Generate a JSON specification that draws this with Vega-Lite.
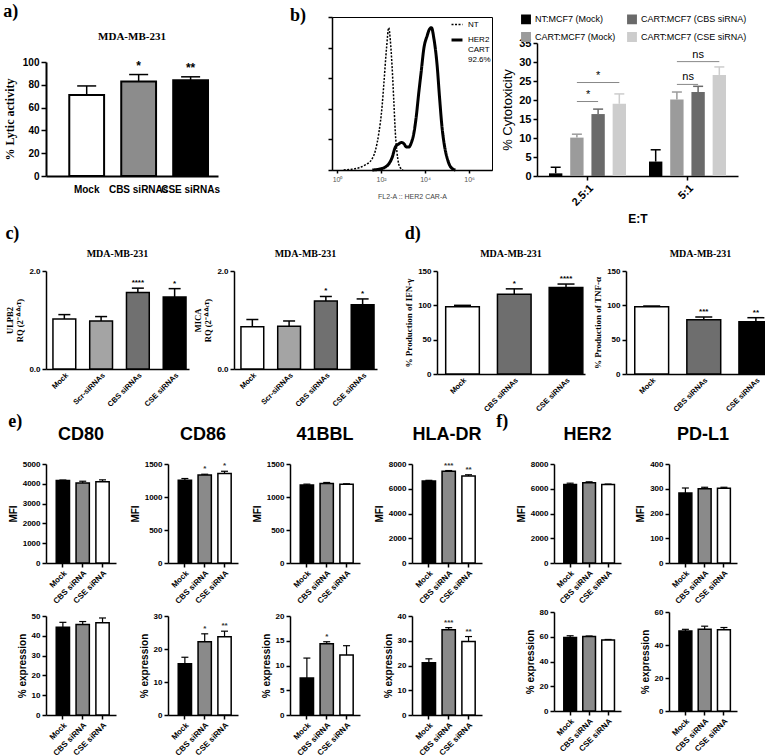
{
"$schema":"https://vega.github.io/schema/vega-lite/v6.json",
"background":"white",
"padding":{"left":3,"top":3,"right":3,"bottom":0},
"config":{
 "view":{"stroke":null},
 "font":"Liberation Sans",
 "numberFormat":"d",
 "axis":{"grid":false,"labelOverlap":false,"domainColor":"black","tickColor":"black","labelColor":"black","titleColor":"black","domainWidth":1.5,"tickWidth":1.5,"tickSize":4,"labelFont":"Liberation Sans","labelFontWeight":"bold","labelFontSize":9,"titleFont":"Liberation Sans","titleFontWeight":"bold","titleFontSize":10,"labelPadding":2,"titlePadding":4},
 "axisQuantitative":{"tickCount":30},
 "title":{"font":"Liberation Sans","fontWeight":"bold","color":"black"},
 "legend":{"labelFont":"Liberation Sans","labelColor":"black"}
},
"datasets":{
 "bars":[
  {"p":"a","g":"Mock","v":71,"hi":79,"sig":""},
  {"p":"a","g":"CBS siRNAs","v":83,"hi":89,"sig":"*"},
  {"p":"a","g":"CSE siRNAs","v":84,"hi":87,"sig":"**"},
  {"p":"c1","g":"Mock","v":1.02,"hi":1.11,"sig":""},
  {"p":"c1","g":"Scr-siRNAs","v":0.98,"hi":1.07,"sig":""},
  {"p":"c1","g":"CBS siRNAs","v":1.56,"hi":1.65,"sig":"****"},
  {"p":"c1","g":"CSE siRNAs","v":1.47,"hi":1.64,"sig":"*"},
  {"p":"c2","g":"Mock","v":0.86,"hi":1.01,"sig":""},
  {"p":"c2","g":"Scr-siRNAs","v":0.87,"hi":0.98,"sig":""},
  {"p":"c2","g":"CBS siRNAs","v":1.39,"hi":1.48,"sig":"*"},
  {"p":"c2","g":"CSE siRNAs","v":1.31,"hi":1.43,"sig":"*"},
  {"p":"d1","g":"Mock","v":98,"hi":100,"sig":""},
  {"p":"d1","g":"CBS siRNAs","v":116,"hi":124,"sig":"*"},
  {"p":"d1","g":"CSE siRNAs","v":126,"hi":131,"sig":"****"},
  {"p":"d2","g":"Mock","v":98,"hi":99,"sig":""},
  {"p":"d2","g":"CBS siRNAs","v":79,"hi":83,"sig":"***"},
  {"p":"d2","g":"CSE siRNAs","v":76,"hi":82,"sig":"**"},
  {"p":"CD80m","g":"Mock","v":4170,"hi":4190,"sig":""},
  {"p":"CD80m","g":"CBS siRNA","v":4040,"hi":4130,"sig":""},
  {"p":"CD80m","g":"CSE siRNA","v":4100,"hi":4200,"sig":""},
  {"p":"CD86m","g":"Mock","v":1255,"hi":1280,"sig":""},
  {"p":"CD86m","g":"CBS siRNA","v":1335,"hi":1345,"sig":"*"},
  {"p":"CD86m","g":"CSE siRNA","v":1355,"hi":1390,"sig":"*"},
  {"p":"BBLm","g":"Mock","v":1180,"hi":1195,"sig":""},
  {"p":"BBLm","g":"CBS siRNA","v":1205,"hi":1220,"sig":""},
  {"p":"BBLm","g":"CSE siRNA","v":1195,"hi":1200,"sig":""},
  {"p":"HLAm","g":"Mock","v":6620,"hi":6680,"sig":""},
  {"p":"HLAm","g":"CBS siRNA","v":7420,"hi":7470,"sig":"***"},
  {"p":"HLAm","g":"CSE siRNA","v":7030,"hi":7130,"sig":"**"},
  {"p":"HER2m","g":"Mock","v":6350,"hi":6450,"sig":""},
  {"p":"HER2m","g":"CBS siRNA","v":6480,"hi":6560,"sig":""},
  {"p":"HER2m","g":"CSE siRNA","v":6340,"hi":6380,"sig":""},
  {"p":"PDL1m","g":"Mock","v":283,"hi":303,"sig":""},
  {"p":"PDL1m","g":"CBS siRNA","v":300,"hi":306,"sig":""},
  {"p":"PDL1m","g":"CSE siRNA","v":302,"hi":306,"sig":""},
  {"p":"CD80p","g":"Mock","v":44.3,"hi":46.8,"sig":""},
  {"p":"CD80p","g":"CBS siRNA","v":45.7,"hi":47.2,"sig":""},
  {"p":"CD80p","g":"CSE siRNA","v":46.6,"hi":49.0,"sig":""},
  {"p":"CD86p","g":"Mock","v":15.5,"hi":17.5,"sig":""},
  {"p":"CD86p","g":"CBS siRNA","v":22.2,"hi":24.6,"sig":"*"},
  {"p":"CD86p","g":"CSE siRNA","v":23.7,"hi":25.4,"sig":"**"},
  {"p":"BBLp","g":"Mock","v":7.5,"hi":11.5,"sig":""},
  {"p":"BBLp","g":"CBS siRNA","v":14.4,"hi":14.8,"sig":"*"},
  {"p":"BBLp","g":"CSE siRNA","v":12.1,"hi":14.0,"sig":""},
  {"p":"HLAp","g":"Mock","v":21.1,"hi":22.7,"sig":""},
  {"p":"HLAp","g":"CBS siRNA","v":34.4,"hi":35.3,"sig":"***"},
  {"p":"HLAp","g":"CSE siRNA","v":29.7,"hi":31.7,"sig":"**"},
  {"p":"HER2p","g":"Mock","v":59.3,"hi":60.8,"sig":""},
  {"p":"HER2p","g":"CBS siRNA","v":60.2,"hi":60.6,"sig":""},
  {"p":"HER2p","g":"CSE siRNA","v":57.3,"hi":57.8,"sig":""},
  {"p":"PDL1p","g":"Mock","v":48.5,"hi":49.5,"sig":""},
  {"p":"PDL1p","g":"CBS siRNA","v":49.6,"hi":51.4,"sig":""},
  {"p":"PDL1p","g":"CSE siRNA","v":49.2,"hi":50.6,"sig":""}
 ],
 "cyto":[
  {"et":"2.5:1","s":"NT:MCF7 (Mock)","v":0.7,"hi":2.3},
  {"et":"2.5:1","s":"CART:MCF7 (Mock)","v":10.1,"hi":11.0},
  {"et":"2.5:1","s":"CART:MCF7 (CBS siRNA)","v":16.3,"hi":17.6},
  {"et":"2.5:1","s":"CART:MCF7 (CSE siRNA)","v":19.0,"hi":21.6},
  {"et":"5:1","s":"NT:MCF7 (Mock)","v":3.8,"hi":6.9},
  {"et":"5:1","s":"CART:MCF7 (Mock)","v":20.1,"hi":22.1},
  {"et":"5:1","s":"CART:MCF7 (CBS siRNA)","v":22.1,"hi":23.6},
  {"et":"5:1","s":"CART:MCF7 (CSE siRNA)","v":26.6,"hi":28.7}
 ],
 "sig":[
  {"k":"a1","et":"2.5:1","s":"CART:MCF7 (Mock)","y":19.6,"t":""},
  {"k":"a1","et":"2.5:1","s":"CART:MCF7 (CBS siRNA)","y":19.6,"t":"*"},
  {"k":"a2","et":"2.5:1","s":"CART:MCF7 (Mock)","y":24.6,"t":""},
  {"k":"a2","et":"2.5:1","s":"CART:MCF7 (CSE siRNA)","y":24.6,"t":""},
  {"k":"b1","et":"5:1","s":"CART:MCF7 (Mock)","y":24.1,"t":""},
  {"k":"b1","et":"5:1","s":"CART:MCF7 (CBS siRNA)","y":24.1,"t":"ns"},
  {"k":"b2","et":"5:1","s":"CART:MCF7 (Mock)","y":30.1,"t":""},
  {"k":"b2","et":"5:1","s":"CART:MCF7 (CSE siRNA)","y":30.1,"t":""},
  {"k":"a2t","et":"2.5:1","s":"CART:MCF7 (CBS siRNA)","y":24.6,"t":"*"},
  {"k":"b2t","et":"5:1","s":"CART:MCF7 (CBS siRNA)","y":30.1,"t":"ns"}
 ],
 "flow":[
  {"s":"NT","x":2,"y":0},{"s":"NT","x":4.7,"y":0.5},{"s":"NT","x":10,"y":1.5},{"s":"NT","x":20,"y":3.5},{"s":"NT","x":38,"y":7},{"s":"NT","x":56,"y":13},{"s":"NT","x":79,"y":24},{"s":"NT","x":112,"y":42},{"s":"NT","x":135,"y":57},{"s":"NT","x":178,"y":80},{"s":"NT","x":224,"y":93},{"s":"NT","x":263,"y":85},{"s":"NT","x":316,"y":68},{"s":"NT","x":380,"y":45},{"s":"NT","x":447,"y":24},{"s":"NT","x":525,"y":12},{"s":"NT","x":631,"y":4},{"s":"NT","x":794,"y":1},{"s":"NT","x":1000,"y":0},
  {"s":"HER2","x":40,"y":0},{"s":"HER2","x":79,"y":0.5},{"s":"HER2","x":158,"y":2},{"s":"HER2","x":251,"y":5},{"s":"HER2","x":316,"y":8},{"s":"HER2","x":447,"y":15},{"s":"HER2","x":631,"y":17},{"s":"HER2","x":851,"y":18},{"s":"HER2","x":1122,"y":17},{"s":"HER2","x":1413,"y":15},{"s":"HER2","x":1820,"y":15},{"s":"HER2","x":2399,"y":18},{"s":"HER2","x":3090,"y":24},{"s":"HER2","x":3981,"y":35},{"s":"HER2","x":5129,"y":50},{"s":"HER2","x":6761,"y":65},{"s":"HER2","x":8710,"y":79},{"s":"HER2","x":12589,"y":88},{"s":"HER2","x":15849,"y":92},{"s":"HER2","x":19498,"y":93},{"s":"HER2","x":25119,"y":86},{"s":"HER2","x":35481,"y":68},{"s":"HER2","x":45709,"y":47},{"s":"HER2","x":58884,"y":28},{"s":"HER2","x":75858,"y":16},{"s":"HER2","x":100000,"y":8},{"s":"HER2","x":131826,"y":3},{"s":"HER2","x":169824,"y":1},{"s":"HER2","x":239883,"y":0}
 ],
 "heads":[{"t":"MDA-MB-231"}]
},
"spacing":0,
"resolve":{"scale":{"color":"independent","strokeDash":"independent","strokeWidth":"independent"},"legend":{"color":"independent","strokeDash":"independent","strokeWidth":"independent"}},
"vconcat":[
 {"spacing":69,
  "resolve":{"scale":{"color":"independent","strokeDash":"independent","strokeWidth":"independent"},"legend":{"color":"independent","strokeDash":"independent","strokeWidth":"independent"}},
  "hconcat":[
  {"title":{"text":"a)","font":"Liberation Serif","fontSize":18,"anchor":"start","offset":0,"dx":0,"dy":4},
   "spacing":0,
   "vconcat":[
    {"width":172,"height":40,"data":{"name":"heads"},
     "mark":{"type":"text","font":"Liberation Serif","fontSize":11,"fontWeight":"bold","color":"black","baseline":"middle"},
     "encoding":{"text":{"field":"t"}}},
    {"width":172,"height":114,
     "data":{"name":"bars"},"transform":[{"filter":"datum.p==='a'"}],
     "encoding":{"x":{"field":"g","type":"nominal","sort":null,"title":null,"scale":{"paddingInner":0.33,"paddingOuter":0.32,"align":0.7},"axis":{"labelAngle":0,"ticks":false,"labelFontSize":10,"labelPadding":8,"labelBound":false,"domainWidth":2}}},
     "layer":[
      {"mark":{"type":"bar","stroke":"black","strokeWidth":2},"encoding":{"y":{"field":"v","type":"quantitative","scale":{"domain":[0,100],"nice":false},"axis":{"title":"% Lytic activity","titleFont":"Liberation Serif","titleFontSize":12,"values":[0,20,40,60,80,100],"tickCount":30,"labelFontSize":10,"tickSize":5,"titlePadding":6,"domainWidth":2}},"fill":{"condition":[{"test":"datum.g==='Mock'","value":"white"},{"test":"datum.g==='CBS siRNAs'","value":"#8c8c8c"}],"value":"black"}}},
      {"mark":{"type":"rule","color":"black","strokeWidth":1.5},"encoding":{"y":{"field":"v","type":"quantitative"},"y2":{"field":"hi"}}},
      {"mark":{"type":"tick","color":"black","thickness":1.5,"size":19,"opacity":1},"encoding":{"y":{"field":"hi","type":"quantitative"}}},
      {"mark":{"type":"text","color":"black","baseline":"bottom","dy":-2,"fontSize":12,"fontWeight":"bold"},"encoding":{"y":{"field":"hi","type":"quantitative"},"text":{"field":"sig"}}}
     ]}
   ]},
  {"spacing":8,
   "resolve":{"scale":{"color":"independent","strokeDash":"independent","strokeWidth":"independent"},"legend":{"color":"independent","strokeDash":"independent","strokeWidth":"independent"}},
   "hconcat":[
    {"width":160,"height":153,
     "title":{"text":"b)","font":"Liberation Serif","fontSize":18,"anchor":"start","frame":"group","offset":0,"dx":-42,"dy":9},
     "view":{"stroke":"black","strokeWidth":1},
     "data":{"name":"flow"},
     "mark":{"type":"line","color":"black","interpolate":"monotone"},
     "encoding":{
      "x":{"field":"x","type":"quantitative","scale":{"type":"log","domain":[0.59,11000000],"nice":false},"axis":{"values":[1,100,10000,1000000],"labelExpr":"datum.value<10?'10⁰':datum.value<1000?'10²':datum.value<100000?'10⁴':'10⁶'","title":"FL2-A :: HER2 CAR-A","labelFontWeight":"normal","labelFontSize":7,"labelColor":"#555","titleFontWeight":"normal","titleFontSize":7,"titleColor":"#444","tickSize":3,"domainWidth":1.5,"titlePadding":10}},
      "y":{"field":"y","type":"quantitative","scale":{"domain":[0,100],"nice":false},"axis":{"values":[0,20,40,60,80,100],"labels":false,"title":null,"tickSize":4,"domainWidth":1.5}},
      "strokeDash":{"field":"s","type":"nominal","scale":{"domain":["NT","HER2"],"range":[[2,1.5],[1,0]]},"legend":{"orient":"top-right","offset":0,"title":null,"labelFontSize":8,"labelFontWeight":"normal","symbolType":"stroke","symbolSize":120,"symbolStrokeColor":"black","labelExpr":"datum.label==='HER2'?['HER2','CART','92.6%']:datum.label","padding":1,"rowPadding":4}},
      "strokeWidth":{"field":"s","type":"ordinal","scale":{"domain":["NT","HER2"],"range":[1.5,3]},"legend":{"orient":"top-right","offset":0,"title":null,"labelFontSize":8,"labelFontWeight":"normal","symbolType":"stroke","symbolSize":120,"symbolStrokeColor":"black","labelExpr":"datum.label==='HER2'?['HER2','CART','92.6%']:datum.label","padding":1,"rowPadding":4}}
     }},
    {"spacing":0,
     "vconcat":[
      {"width":201,"height":20,"data":{"values":[]},"mark":"point"},
      {"width":201,"height":133,
       "layer":[
        {"data":{"name":"cyto"},"mark":{"type":"bar"},"encoding":{
          "x":{"field":"et","type":"nominal","sort":null,"scale":{"domain":["2.5:1","5:1"],"paddingInner":0.23,"paddingOuter":0.12},"axis":{"title":"E:T","labelAngle":-45,"labelFontSize":11,"titleFontSize":12,"titlePadding":6}},
          "xOffset":{"field":"s","type":"nominal","scale":{"domain":["NT:MCF7 (Mock)","CART:MCF7 (Mock)","CART:MCF7 (CBS siRNA)","CART:MCF7 (CSE siRNA)"],"paddingInner":0.37,"paddingOuter":0}},
          "y":{"field":"v","type":"quantitative","scale":{"domain":[0,35],"nice":false},"axis":{"title":"% Cytotoxicity","values":[0,5,10,15,20,25,30,35],"tickCount":30,"labelFontSize":11,"titleFontSize":13,"titleFontWeight":"normal"}},
          "color":{"field":"s","type":"nominal","scale":{"domain":["NT:MCF7 (Mock)","CART:MCF7 (CBS siRNA)","CART:MCF7 (Mock)","CART:MCF7 (CSE siRNA)"],"range":["#000000","#6a6a6a","#9b9b9b","#cdcdcd"]},"legend":{"orient":"none","legendX":-16,"legendY":-3,"title":null,"columns":2,"direction":"horizontal","labelFontSize":9,"labelFontWeight":"normal","symbolType":"square","symbolSize":70,"columnPadding":8,"rowPadding":2,"labelLimit":200}}
        }},
        {"data":{"name":"cyto"},"mark":{"type":"rule","strokeWidth":1.5},"encoding":{
          "x":{"field":"et","type":"nominal","sort":null},
          "xOffset":{"field":"s","type":"nominal"},
          "y":{"field":"v","type":"quantitative"},"y2":{"field":"hi"},
          "color":{"field":"s","type":"nominal"}}},
        {"data":{"name":"cyto"},"mark":{"type":"tick","thickness":1.5,"size":10,"opacity":1},"encoding":{
          "x":{"field":"et","type":"nominal","sort":null},
          "xOffset":{"field":"s","type":"nominal"},
          "y":{"field":"hi","type":"quantitative"},
          "color":{"field":"s","type":"nominal"}}},
        {"data":{"name":"sig"},"transform":[{"filter":"datum.k==='a1'||datum.k==='a2'||datum.k==='b1'||datum.k==='b2'"}],"mark":{"type":"line","color":"#888","strokeWidth":1},"encoding":{
          "x":{"field":"et","type":"nominal","sort":null},
          "xOffset":{"field":"s","type":"nominal"},
          "y":{"field":"y","type":"quantitative"},
          "detail":{"field":"k"}}},
        {"data":{"name":"sig"},"transform":[{"filter":"datum.k==='a1'||datum.k==='b1'"}],"mark":{"type":"text","dx":-10,"dy":-2,"baseline":"bottom","fontSize":11,"color":"black"},"encoding":{
          "x":{"field":"et","type":"nominal","sort":null},
          "xOffset":{"field":"s","type":"nominal"},
          "y":{"field":"y","type":"quantitative"},
          "text":{"field":"t"}}},
        {"data":{"name":"sig"},"transform":[{"filter":"datum.k==='a2t'||datum.k==='b2t'"}],"mark":{"type":"text","dy":-2,"baseline":"bottom","fontSize":11,"color":"black"},"encoding":{
          "x":{"field":"et","type":"nominal","sort":null},
          "xOffset":{"field":"s","type":"nominal"},
          "y":{"field":"y","type":"quantitative"},
          "text":{"field":"t"}}}
       ]}
     ]}
   ]}
 ]},
 {"spacing":27,"hconcat":[
  {"title":{"text":"c)","font":"Liberation Serif","fontSize":18,"anchor":"start","offset":6},
   "spacing":4,
   "hconcat":[
    {"width":143,"height":98,
     "title":{"text":"MDA-MB-231","font":"Liberation Serif","fontSize":10,"offset":8},
     "data":{"name":"bars"},"transform":[{"filter":"datum.p==='c1'"}],
     "encoding":{"x":{"field":"g","type":"nominal","sort":null,"title":null,"scale":{"paddingInner":0.38,"paddingOuter":0.135,"align":0.7},"axis":{"labelAngle":-45,"ticks":false,"labelFontSize":7.5}}},
     "layer":[
      {"mark":{"type":"bar","stroke":"black","strokeWidth":1.5},"encoding":{"y":{"field":"v","type":"quantitative","scale":{"domain":[0,2],"nice":false},"axis":{"title":["ULPB2","RQ (2⁻ᐞᐞᶜᵀ)"],"titleFont":"Liberation Serif","titleFontSize":8.5,"values":[0,0.5,1,1.5,2],"tickCount":30,"format":".1f","labelFontSize":8}},"fill":{"condition":[{"test":"datum.g==='Mock'","value":"white"},{"test":"datum.g==='Scr-siRNAs'","value":"#a4a4a4"},{"test":"datum.g==='CBS siRNAs'","value":"#707070"}],"value":"black"}}},
      {"mark":{"type":"rule","color":"black","strokeWidth":1.5},"encoding":{"y":{"field":"v","type":"quantitative"},"y2":{"field":"hi"}}},
      {"mark":{"type":"tick","color":"black","thickness":1.5,"size":12,"opacity":1},"encoding":{"y":{"field":"hi","type":"quantitative"}}},
      {"mark":{"type":"text","color":"black","baseline":"bottom","dy":-1,"fontSize":8,"fontWeight":"bold"},"encoding":{"y":{"field":"hi","type":"quantitative"},"text":{"field":"sig"}}}
     ]},
    {"width":143,"height":98,
     "title":{"text":"MDA-MB-231","font":"Liberation Serif","fontSize":10,"offset":8},
     "data":{"name":"bars"},"transform":[{"filter":"datum.p==='c2'"}],
     "encoding":{"x":{"field":"g","type":"nominal","sort":null,"title":null,"scale":{"paddingInner":0.38,"paddingOuter":0.135,"align":0.7},"axis":{"labelAngle":-45,"ticks":false,"labelFontSize":7.5}}},
     "layer":[
      {"mark":{"type":"bar","stroke":"black","strokeWidth":1.5},"encoding":{"y":{"field":"v","type":"quantitative","scale":{"domain":[0,2],"nice":false},"axis":{"title":["MICA","RQ (2⁻ᐞᐞᶜᵀ)"],"titleFont":"Liberation Serif","titleFontSize":8.5,"values":[0,0.5,1,1.5,2],"tickCount":30,"format":".1f","labelFontSize":8}},"fill":{"condition":[{"test":"datum.g==='Mock'","value":"white"},{"test":"datum.g==='Scr-siRNAs'","value":"#a4a4a4"},{"test":"datum.g==='CBS siRNAs'","value":"#707070"}],"value":"black"}}},
      {"mark":{"type":"rule","color":"black","strokeWidth":1.5},"encoding":{"y":{"field":"v","type":"quantitative"},"y2":{"field":"hi"}}},
      {"mark":{"type":"tick","color":"black","thickness":1.5,"size":12,"opacity":1},"encoding":{"y":{"field":"hi","type":"quantitative"}}},
      {"mark":{"type":"text","color":"black","baseline":"bottom","dy":-1,"fontSize":8,"fontWeight":"bold"},"encoding":{"y":{"field":"hi","type":"quantitative"},"text":{"field":"sig"}}}
     ]}
   ]},
  {"title":{"text":"d)","font":"Liberation Serif","fontSize":18,"anchor":"start","offset":6},
   "spacing":8,
   "hconcat":[
    {"width":148,"height":103,
     "title":{"text":"MDA-MB-231","font":"Liberation Serif","fontSize":10,"offset":8},
     "data":{"name":"bars"},"transform":[{"filter":"datum.p==='d1'"}],
     "encoding":{"x":{"field":"g","type":"nominal","sort":null,"title":null,"scale":{"paddingInner":0.35,"paddingOuter":0.105,"align":0.8},"axis":{"labelAngle":-45,"ticks":false,"labelFontSize":7.5}}},
     "layer":[
      {"mark":{"type":"bar","stroke":"black","strokeWidth":1.5},"encoding":{"y":{"field":"v","type":"quantitative","scale":{"domain":[0,150],"nice":false},"axis":{"title":"% Production of IFN-γ","titleFont":"Liberation Serif","titleFontSize":9,"values":[0,50,100,150],"tickCount":30,"labelFontSize":8}},"fill":{"condition":[{"test":"datum.g==='Mock'","value":"white"},{"test":"datum.g==='CBS siRNAs'","value":"#6e6e6e"}],"value":"black"}}},
      {"mark":{"type":"rule","color":"black","strokeWidth":1.5},"encoding":{"y":{"field":"v","type":"quantitative"},"y2":{"field":"hi"}}},
      {"mark":{"type":"tick","color":"black","thickness":1.5,"size":17,"opacity":1},"encoding":{"y":{"field":"hi","type":"quantitative"}}},
      {"mark":{"type":"text","color":"black","baseline":"bottom","dy":-1,"fontSize":8,"fontWeight":"bold"},"encoding":{"y":{"field":"hi","type":"quantitative"},"text":{"field":"sig"}}}
     ]},
    {"width":149,"height":103,
     "title":{"text":"MDA-MB-231","font":"Liberation Serif","fontSize":10,"offset":8},
     "data":{"name":"bars"},"transform":[{"filter":"datum.p==='d2'"}],
     "encoding":{"x":{"field":"g","type":"nominal","sort":null,"title":null,"scale":{"paddingInner":0.35,"paddingOuter":0.105,"align":0.8},"axis":{"labelAngle":-45,"ticks":false,"labelFontSize":7.5}}},
     "layer":[
      {"mark":{"type":"bar","stroke":"black","strokeWidth":1.5},"encoding":{"y":{"field":"v","type":"quantitative","scale":{"domain":[0,150],"nice":false},"axis":{"title":"% Production of TNF-α","titleFont":"Liberation Serif","titleFontSize":9,"values":[0,50,100,150],"tickCount":30,"labelFontSize":8}},"fill":{"condition":[{"test":"datum.g==='Mock'","value":"white"},{"test":"datum.g==='CBS siRNAs'","value":"#6e6e6e"}],"value":"black"}}},
      {"mark":{"type":"rule","color":"black","strokeWidth":1.5},"encoding":{"y":{"field":"v","type":"quantitative"},"y2":{"field":"hi"}}},
      {"mark":{"type":"tick","color":"black","thickness":1.5,"size":17,"opacity":1},"encoding":{"y":{"field":"hi","type":"quantitative"}}},
      {"mark":{"type":"text","color":"black","baseline":"bottom","dy":-1,"fontSize":8,"fontWeight":"bold"},"encoding":{"y":{"field":"hi","type":"quantitative"},"text":{"field":"sig"}}}
     ]}
   ]}
 ]},
 {"spacing":14,"hconcat":[
  {"title":{"text":"e)","font":"Liberation Serif","fontSize":18,"anchor":"start","dy":9},
   "columns":4,"spacing":{"row":2,"column":14},
   "concat":[
    {"width":70,"height":99,"title":{"text":"CD80","fontSize":18,"offset":16},"data":{"name":"bars"},"transform":[{"filter":"datum.p==='CD80m'"}],
     "encoding":{"x":{"field":"g","type":"nominal","sort":null,"title":null,"scale":{"paddingInner":0.33,"paddingOuter":0.43,"align":0.6},"axis":{"labelAngle":-45,"labelFontSize":8}}},
     "layer":[
      {"mark":{"type":"bar","stroke":"black","strokeWidth":1.5},"encoding":{"y":{"field":"v","type":"quantitative","scale":{"domain":[0,5000],"nice":false},"axis":{"title":"MFI","values":[0,1000,2000,3000,4000,5000],"tickCount":30,"labelFontSize":8}},"fill":{"condition":[{"test":"datum.g==='Mock'","value":"black"},{"test":"datum.g==='CBS siRNA'","value":"#8a8a8a"}],"value":"white"}}},
      {"mark":{"type":"rule","color":"black","strokeWidth":1.2},"encoding":{"y":{"field":"v","type":"quantitative"},"y2":{"field":"hi"}}},
      {"mark":{"type":"tick","color":"black","thickness":1.2,"size":7,"opacity":1},"encoding":{"y":{"field":"hi","type":"quantitative"}}},
      {"mark":{"type":"text","color":"#333","baseline":"bottom","dy":-1,"fontSize":8,"fontWeight":"bold"},"encoding":{"y":{"field":"hi","type":"quantitative"},"text":{"field":"sig"}}}
     ]},
    {"width":70,"height":99,"title":{"text":"CD86","fontSize":18,"offset":16},"data":{"name":"bars"},"transform":[{"filter":"datum.p==='CD86m'"}],
     "encoding":{"x":{"field":"g","type":"nominal","sort":null,"title":null,"scale":{"paddingInner":0.33,"paddingOuter":0.43,"align":0.6},"axis":{"labelAngle":-45,"labelFontSize":8}}},
     "layer":[
      {"mark":{"type":"bar","stroke":"black","strokeWidth":1.5},"encoding":{"y":{"field":"v","type":"quantitative","scale":{"domain":[0,1500],"nice":false},"axis":{"title":"MFI","values":[0,500,1000,1500],"tickCount":30,"labelFontSize":8}},"fill":{"condition":[{"test":"datum.g==='Mock'","value":"black"},{"test":"datum.g==='CBS siRNA'","value":"#8a8a8a"}],"value":"white"}}},
      {"mark":{"type":"rule","color":"black","strokeWidth":1.2},"encoding":{"y":{"field":"v","type":"quantitative"},"y2":{"field":"hi"}}},
      {"mark":{"type":"tick","color":"black","thickness":1.2,"size":7,"opacity":1},"encoding":{"y":{"field":"hi","type":"quantitative"}}},
      {"mark":{"type":"text","color":"#333","baseline":"bottom","dy":-1,"fontSize":8,"fontWeight":"bold"},"encoding":{"y":{"field":"hi","type":"quantitative"},"text":{"field":"sig"}}}
     ]},
    {"width":70,"height":99,"title":{"text":"41BBL","fontSize":18,"offset":16},"data":{"name":"bars"},"transform":[{"filter":"datum.p==='BBLm'"}],
     "encoding":{"x":{"field":"g","type":"nominal","sort":null,"title":null,"scale":{"paddingInner":0.33,"paddingOuter":0.43,"align":0.6},"axis":{"labelAngle":-45,"labelFontSize":8}}},
     "layer":[
      {"mark":{"type":"bar","stroke":"black","strokeWidth":1.5},"encoding":{"y":{"field":"v","type":"quantitative","scale":{"domain":[0,1500],"nice":false},"axis":{"title":"MFI","values":[0,500,1000,1500],"tickCount":30,"labelFontSize":8}},"fill":{"condition":[{"test":"datum.g==='Mock'","value":"black"},{"test":"datum.g==='CBS siRNA'","value":"#8a8a8a"}],"value":"white"}}},
      {"mark":{"type":"rule","color":"black","strokeWidth":1.2},"encoding":{"y":{"field":"v","type":"quantitative"},"y2":{"field":"hi"}}},
      {"mark":{"type":"tick","color":"black","thickness":1.2,"size":7,"opacity":1},"encoding":{"y":{"field":"hi","type":"quantitative"}}},
      {"mark":{"type":"text","color":"#333","baseline":"bottom","dy":-1,"fontSize":8,"fontWeight":"bold"},"encoding":{"y":{"field":"hi","type":"quantitative"},"text":{"field":"sig"}}}
     ]},
    {"width":70,"height":99,"title":{"text":"HLA-DR","fontSize":18,"offset":16},"data":{"name":"bars"},"transform":[{"filter":"datum.p==='HLAm'"}],
     "encoding":{"x":{"field":"g","type":"nominal","sort":null,"title":null,"scale":{"paddingInner":0.33,"paddingOuter":0.43,"align":0.6},"axis":{"labelAngle":-45,"labelFontSize":8}}},
     "layer":[
      {"mark":{"type":"bar","stroke":"black","strokeWidth":1.5},"encoding":{"y":{"field":"v","type":"quantitative","scale":{"domain":[0,8000],"nice":false},"axis":{"title":"MFI","values":[0,2000,4000,6000,8000],"tickCount":30,"labelFontSize":8}},"fill":{"condition":[{"test":"datum.g==='Mock'","value":"black"},{"test":"datum.g==='CBS siRNA'","value":"#8a8a8a"}],"value":"white"}}},
      {"mark":{"type":"rule","color":"black","strokeWidth":1.2},"encoding":{"y":{"field":"v","type":"quantitative"},"y2":{"field":"hi"}}},
      {"mark":{"type":"tick","color":"black","thickness":1.2,"size":7,"opacity":1},"encoding":{"y":{"field":"hi","type":"quantitative"}}},
      {"mark":{"type":"text","color":"#333","baseline":"bottom","dy":-1,"fontSize":8,"fontWeight":"bold"},"encoding":{"y":{"field":"hi","type":"quantitative"},"text":{"field":"sig"}}}
     ]},
    {"width":70,"height":99,"data":{"name":"bars"},"transform":[{"filter":"datum.p==='CD80p'"}],
     "encoding":{"x":{"field":"g","type":"nominal","sort":null,"title":null,"scale":{"paddingInner":0.33,"paddingOuter":0.43,"align":0.6},"axis":{"labelAngle":-45,"labelFontSize":8}}},
     "layer":[
      {"mark":{"type":"bar","stroke":"black","strokeWidth":1.5},"encoding":{"y":{"field":"v","type":"quantitative","scale":{"domain":[0,50],"nice":false},"axis":{"title":"% expression","values":[0,10,20,30,40,50],"tickCount":30,"labelFontSize":8}},"fill":{"condition":[{"test":"datum.g==='Mock'","value":"black"},{"test":"datum.g==='CBS siRNA'","value":"#8a8a8a"}],"value":"white"}}},
      {"mark":{"type":"rule","color":"black","strokeWidth":1.2},"encoding":{"y":{"field":"v","type":"quantitative"},"y2":{"field":"hi"}}},
      {"mark":{"type":"tick","color":"black","thickness":1.2,"size":7,"opacity":1},"encoding":{"y":{"field":"hi","type":"quantitative"}}},
      {"mark":{"type":"text","color":"#333","baseline":"bottom","dy":-1,"fontSize":8,"fontWeight":"bold"},"encoding":{"y":{"field":"hi","type":"quantitative"},"text":{"field":"sig"}}}
     ]},
    {"width":70,"height":99,"data":{"name":"bars"},"transform":[{"filter":"datum.p==='CD86p'"}],
     "encoding":{"x":{"field":"g","type":"nominal","sort":null,"title":null,"scale":{"paddingInner":0.33,"paddingOuter":0.43,"align":0.6},"axis":{"labelAngle":-45,"labelFontSize":8}}},
     "layer":[
      {"mark":{"type":"bar","stroke":"black","strokeWidth":1.5},"encoding":{"y":{"field":"v","type":"quantitative","scale":{"domain":[0,30],"nice":false},"axis":{"title":"% expression","values":[0,10,20,30],"tickCount":30,"labelFontSize":8}},"fill":{"condition":[{"test":"datum.g==='Mock'","value":"black"},{"test":"datum.g==='CBS siRNA'","value":"#8a8a8a"}],"value":"white"}}},
      {"mark":{"type":"rule","color":"black","strokeWidth":1.2},"encoding":{"y":{"field":"v","type":"quantitative"},"y2":{"field":"hi"}}},
      {"mark":{"type":"tick","color":"black","thickness":1.2,"size":7,"opacity":1},"encoding":{"y":{"field":"hi","type":"quantitative"}}},
      {"mark":{"type":"text","color":"#333","baseline":"bottom","dy":-1,"fontSize":8,"fontWeight":"bold"},"encoding":{"y":{"field":"hi","type":"quantitative"},"text":{"field":"sig"}}}
     ]},
    {"width":70,"height":99,"data":{"name":"bars"},"transform":[{"filter":"datum.p==='BBLp'"}],
     "encoding":{"x":{"field":"g","type":"nominal","sort":null,"title":null,"scale":{"paddingInner":0.33,"paddingOuter":0.43,"align":0.6},"axis":{"labelAngle":-45,"labelFontSize":8}}},
     "layer":[
      {"mark":{"type":"bar","stroke":"black","strokeWidth":1.5},"encoding":{"y":{"field":"v","type":"quantitative","scale":{"domain":[0,20],"nice":false},"axis":{"title":"% expression","values":[0,5,10,15,20],"tickCount":30,"labelFontSize":8}},"fill":{"condition":[{"test":"datum.g==='Mock'","value":"black"},{"test":"datum.g==='CBS siRNA'","value":"#8a8a8a"}],"value":"white"}}},
      {"mark":{"type":"rule","color":"black","strokeWidth":1.2},"encoding":{"y":{"field":"v","type":"quantitative"},"y2":{"field":"hi"}}},
      {"mark":{"type":"tick","color":"black","thickness":1.2,"size":7,"opacity":1},"encoding":{"y":{"field":"hi","type":"quantitative"}}},
      {"mark":{"type":"text","color":"#333","baseline":"bottom","dy":-1,"fontSize":8,"fontWeight":"bold"},"encoding":{"y":{"field":"hi","type":"quantitative"},"text":{"field":"sig"}}}
     ]},
    {"width":70,"height":99,"data":{"name":"bars"},"transform":[{"filter":"datum.p==='HLAp'"}],
     "encoding":{"x":{"field":"g","type":"nominal","sort":null,"title":null,"scale":{"paddingInner":0.33,"paddingOuter":0.43,"align":0.6},"axis":{"labelAngle":-45,"labelFontSize":8}}},
     "layer":[
      {"mark":{"type":"bar","stroke":"black","strokeWidth":1.5},"encoding":{"y":{"field":"v","type":"quantitative","scale":{"domain":[0,40],"nice":false},"axis":{"title":"% expression","values":[0,10,20,30,40],"tickCount":30,"labelFontSize":8}},"fill":{"condition":[{"test":"datum.g==='Mock'","value":"black"},{"test":"datum.g==='CBS siRNA'","value":"#8a8a8a"}],"value":"white"}}},
      {"mark":{"type":"rule","color":"black","strokeWidth":1.2},"encoding":{"y":{"field":"v","type":"quantitative"},"y2":{"field":"hi"}}},
      {"mark":{"type":"tick","color":"black","thickness":1.2,"size":7,"opacity":1},"encoding":{"y":{"field":"hi","type":"quantitative"}}},
      {"mark":{"type":"text","color":"#333","baseline":"bottom","dy":-1,"fontSize":8,"fontWeight":"bold"},"encoding":{"y":{"field":"hi","type":"quantitative"},"text":{"field":"sig"}}}
     ]}
   ]},
  {"title":{"text":"f)","font":"Liberation Serif","fontSize":18,"anchor":"start","dy":9,"dx":-20},
   "columns":2,"spacing":{"row":2,"column":14},
   "concat":[
    {"width":67,"height":99,"title":{"text":"HER2","fontSize":18,"offset":16},"data":{"name":"bars"},"transform":[{"filter":"datum.p==='HER2m'"}],
     "encoding":{"x":{"field":"g","type":"nominal","sort":null,"title":null,"scale":{"paddingInner":0.33,"paddingOuter":0.43,"align":0.6},"axis":{"labelAngle":-45,"labelFontSize":8}}},
     "layer":[
      {"mark":{"type":"bar","stroke":"black","strokeWidth":1.5},"encoding":{"y":{"field":"v","type":"quantitative","scale":{"domain":[0,8000],"nice":false},"axis":{"title":"MFI","values":[0,2000,4000,6000,8000],"tickCount":30,"labelFontSize":8}},"fill":{"condition":[{"test":"datum.g==='Mock'","value":"black"},{"test":"datum.g==='CBS siRNA'","value":"#8a8a8a"}],"value":"white"}}},
      {"mark":{"type":"rule","color":"black","strokeWidth":1.2},"encoding":{"y":{"field":"v","type":"quantitative"},"y2":{"field":"hi"}}},
      {"mark":{"type":"tick","color":"black","thickness":1.2,"size":7,"opacity":1},"encoding":{"y":{"field":"hi","type":"quantitative"}}}
     ]},
    {"width":68,"height":99,"title":{"text":"PD-L1","fontSize":18,"offset":16},"data":{"name":"bars"},"transform":[{"filter":"datum.p==='PDL1m'"}],
     "encoding":{"x":{"field":"g","type":"nominal","sort":null,"title":null,"scale":{"paddingInner":0.33,"paddingOuter":0.43,"align":0.6},"axis":{"labelAngle":-45,"labelFontSize":8}}},
     "layer":[
      {"mark":{"type":"bar","stroke":"black","strokeWidth":1.5},"encoding":{"y":{"field":"v","type":"quantitative","scale":{"domain":[0,400],"nice":false},"axis":{"title":"MFI","values":[0,100,200,300,400],"tickCount":30,"labelFontSize":8}},"fill":{"condition":[{"test":"datum.g==='Mock'","value":"black"},{"test":"datum.g==='CBS siRNA'","value":"#8a8a8a"}],"value":"white"}}},
      {"mark":{"type":"rule","color":"black","strokeWidth":1.2},"encoding":{"y":{"field":"v","type":"quantitative"},"y2":{"field":"hi"}}},
      {"mark":{"type":"tick","color":"black","thickness":1.2,"size":7,"opacity":1},"encoding":{"y":{"field":"hi","type":"quantitative"}}}
     ]},
    {"width":67,"height":99,"data":{"name":"bars"},"transform":[{"filter":"datum.p==='HER2p'"}],
     "encoding":{"x":{"field":"g","type":"nominal","sort":null,"title":null,"scale":{"paddingInner":0.33,"paddingOuter":0.43,"align":0.6},"axis":{"labelAngle":-45,"labelFontSize":8}}},
     "layer":[
      {"mark":{"type":"bar","stroke":"black","strokeWidth":1.5},"encoding":{"y":{"field":"v","type":"quantitative","scale":{"domain":[0,80],"nice":false},"axis":{"title":"% expression","values":[0,20,40,60,80],"tickCount":30,"labelFontSize":8}},"fill":{"condition":[{"test":"datum.g==='Mock'","value":"black"},{"test":"datum.g==='CBS siRNA'","value":"#8a8a8a"}],"value":"white"}}},
      {"mark":{"type":"rule","color":"black","strokeWidth":1.2},"encoding":{"y":{"field":"v","type":"quantitative"},"y2":{"field":"hi"}}},
      {"mark":{"type":"tick","color":"black","thickness":1.2,"size":7,"opacity":1},"encoding":{"y":{"field":"hi","type":"quantitative"}}}
     ]},
    {"width":68,"height":99,"data":{"name":"bars"},"transform":[{"filter":"datum.p==='PDL1p'"}],
     "encoding":{"x":{"field":"g","type":"nominal","sort":null,"title":null,"scale":{"paddingInner":0.33,"paddingOuter":0.43,"align":0.6},"axis":{"labelAngle":-45,"labelFontSize":8}}},
     "layer":[
      {"mark":{"type":"bar","stroke":"black","strokeWidth":1.5},"encoding":{"y":{"field":"v","type":"quantitative","scale":{"domain":[0,60],"nice":false},"axis":{"title":"% expression","values":[0,20,40,60],"tickCount":30,"labelFontSize":8}},"fill":{"condition":[{"test":"datum.g==='Mock'","value":"black"},{"test":"datum.g==='CBS siRNA'","value":"#8a8a8a"}],"value":"white"}}},
      {"mark":{"type":"rule","color":"black","strokeWidth":1.2},"encoding":{"y":{"field":"v","type":"quantitative"},"y2":{"field":"hi"}}},
      {"mark":{"type":"tick","color":"black","thickness":1.2,"size":7,"opacity":1},"encoding":{"y":{"field":"hi","type":"quantitative"}}}
     ]}
   ]}
 ]}
]
}
